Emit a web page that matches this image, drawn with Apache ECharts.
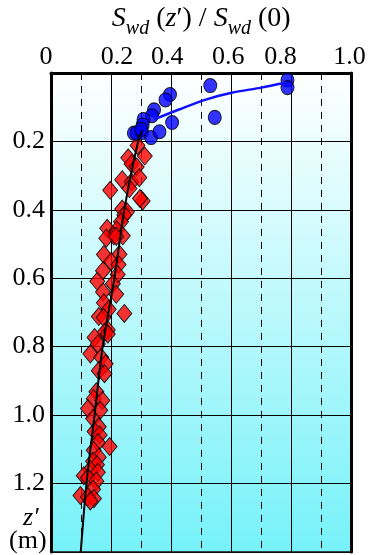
<!DOCTYPE html>
<html><head><meta charset="utf-8">
<script src="https://cdn.jsdelivr.net/npm/echarts@6/dist/echarts.min.js"></script>
<style>html,body{margin:0;padding:0;background:#fff}#c{width:374px;height:555px}</style>
</head><body><div id="c"></div>
<script>
// x: S_wd(z')/S_wd(0), y: z' (m)
const xTickLabels = ['0', '0.2', '0.4', '0.6', '0.8', '1.0'];
const yTickLabels = ['0.2', '0.4', '0.6', '0.8', '1.0', '1.2'];

const blueRatio = [0.787,0.787,0.530,0.545,0.396,0.381,0.343,0.336,0.308,0.305,0.403,0.276,0.285,0.303,0.333,0.361,0.300];
const blueDepth = [0.021,0.043,0.037,0.130,0.063,0.079,0.108,0.125,0.136,0.152,0.145,0.176,0.176,0.174,0.189,0.172,0.165];

const redRatio = [0.288,0.312,0.257,0.268,0.285,0.237,0.268,0.294,0.197,0.261,0.305,0.296,0.237,0.253,0.244,0.233,0.187,0.219,0.209,0.239,
  0.184,0.217,0.176,0.228,0.200,0.225,0.173,0.222,0.154,0.206,0.173,0.217,0.176,0.192,0.244,0.159,0.175,0.189,0.178,0.145,
  0.189,0.156,0.131,0.167,0.182,0.159,0.178,0.151,0.142,0.171,0.123,0.164,0.140,0.159,
  0.145,0.162,0.156,0.195,0.142,0.159,0.140,0.153,0.131,0.156,0.109,0.123,0.151,0.140,0.098,0.123,0.143,0.131];
const redDepth = [0.212,0.243,0.248,0.266,0.275,0.312,0.319,0.306,0.343,0.338,0.374,0.367,0.398,0.406,0.415,0.435,0.454,0.459,0.476,0.476,
  0.483,0.478,0.531,0.530,0.551,0.560,0.578,0.589,0.609,0.616,0.640,0.647,0.672,0.691,0.703,0.712,0.715,0.751,0.758,0.773,
  0.763,0.792,0.821,0.831,0.850,0.870,0.879,0.932,0.952,0.957,0.981,0.986,1.010,1.034,
  1.048,1.058,1.080,1.092,1.103,1.123,1.135,1.145,1.159,1.167,1.177,1.183,1.193,1.217,1.235,1.239,1.244,1.251];

const blueFitRatio = [0.343,0.426,0.515,0.601,0.700,0.779];
const blueFitDepth = [0.136,0.107,0.078,0.058,0.043,0.029];

const blackFitRatio = [0.304,0.290,0.244,0.211,0.172,0.145,0.118,0.099];
const blackFitDepth = [0.168,0.200,0.400,0.600,0.800,1.000,1.200,1.400];

const zip = (a, b) => a.map((v, i) => [v, b[i]]);
const FF = 'serif';

// small horizontal nudges of the top tick labels (as placed in the original figure)
const xLabelShift = [-5, 6, -4, -3, -11, -2];
const xRich = {t: {fontFamily: FF, fontSize: 26, color: '#000'}};
xLabelShift.forEach((d, i) => {
  xRich['sp' + i] = {fontFamily: FF, fontSize: 26, width: Math.abs(2 * d), color: 'rgba(0,0,0,0)'};
});

const chart = echarts.init(document.getElementById('c'));
chart.setOption({
  animation: false,
  textStyle: {fontFamily: FF},
  grid: {
    left: 51, right: 20, top: 70, bottom: 3,
    show: true, borderWidth: 0,
    backgroundColor: {type: 'linear', x: 0, y: 0, x2: 0, y2: 1,
      colorStops: [{offset: 0, color: '#ffffff'}, {offset: 1, color: '#76f2f9'}]}
  },
  xAxis: [{
    type: 'value', position: 'top', min: 0, max: 1, interval: 0.2,
    axisLine: {show: true, onZero: false, lineStyle: {color: '#000', width: 3}},
    axisTick: {show: false},
    axisLabel: {margin: 3, color: '#000', fontFamily: FF, fontSize: 26, rich: xRich,
      formatter: (v) => {
        const i = Math.round(v / 0.2), d = xLabelShift[i];
        const sp = '{sp' + i + '| }';
        return (d > 0 ? sp : '') + '{t|' + xTickLabels[i] + '}' + (d < 0 ? sp : '');
      }},
    splitLine: {show: true, lineStyle: {color: '#000', width: 1}},
    minorTick: {show: false, splitNumber: 2},
    minorSplitLine: {show: true, lineStyle: {color: '#000', width: 1, type: [7, 6]}},
    name: '{s|S}{sub|wd}{n| (}{s|z}{n|′) / }{s|S}{sub|wd}{n| (0)}',
    nameLocation: 'middle', nameGap: 32,
    nameTextStyle: {
      color: '#000', fontFamily: FF,
      rich: {
        s: {fontFamily: FF, fontStyle: 'italic', fontSize: 28, color: '#000', lineHeight: 34, verticalAlign: 'top'},
        sub: {fontFamily: FF, fontStyle: 'italic', fontSize: 20, color: '#000', lineHeight: 34, verticalAlign: 'bottom'},
        n: {fontFamily: FF, fontSize: 28, color: '#000', lineHeight: 34, verticalAlign: 'top'}
      }
    }
  }, {
    type: 'value', position: 'bottom', min: 0, max: 1, interval: 0.2,
    axisLine: {show: true, onZero: false, lineStyle: {color: '#111', width: 1.5}},
    axisTick: {show: false}, axisLabel: {show: false}, splitLine: {show: false}
  }],
  yAxis: [{
    type: 'value', inverse: true, min: 0, max: 1.4, interval: 0.2,
    axisLine: {show: true, onZero: false, lineStyle: {color: '#000', width: 3}},
    axisTick: {show: false},
    axisLabel: {margin: 6, color: '#000', fontFamily: FF, fontSize: 26,
      formatter: (v) => { const i = Math.round(v / 0.2) - 1; return (i >= 0 && i < yTickLabels.length) ? yTickLabels[i] : ''; }},
    splitLine: {show: true, lineStyle: {color: '#000', width: 1}}
  }, {
    type: 'value', inverse: true, min: 0, max: 1.4, interval: 0.2, position: 'right',
    axisLine: {show: true, onZero: false, lineStyle: {color: '#000', width: 3}},
    axisTick: {show: false}, axisLabel: {show: false}, splitLine: {show: false}
  }],
  graphic: [
    {type: 'text', left: 23, top: 505, style: {text: 'z′', fontFamily: FF, fontSize: 26, fontStyle: 'italic', fill: '#000'}},
    {type: 'text', left: 9, top: 528, style: {text: '(m)', fontFamily: FF, fontSize: 26, fill: '#000'}}
  ],
  series: [
    {type: 'scatter', data: zip(redRatio, redDepth), symbol: 'diamond', symbolSize: [15, 18],
      itemStyle: {color: '#ff0000', borderColor: '#000', borderWidth: 1}, z: 2},
    {type: 'scatter', data: zip(blueRatio, blueDepth), symbol: 'circle', symbolSize: [13, 14],
      itemStyle: {color: '#0000ff', borderColor: '#000', borderWidth: 1}, z: 3},
    {type: 'line', data: zip(blackFitRatio, blackFitDepth), smooth: 0.3, showSymbol: false,
      lineStyle: {color: '#000', width: 2}, z: 4},
    {type: 'line', data: zip(blueFitRatio, blueFitDepth), smooth: 0.3, showSymbol: false,
      lineStyle: {color: '#1010ff', width: 2.5}, z: 5}
  ]
});
</script>
</body></html>
